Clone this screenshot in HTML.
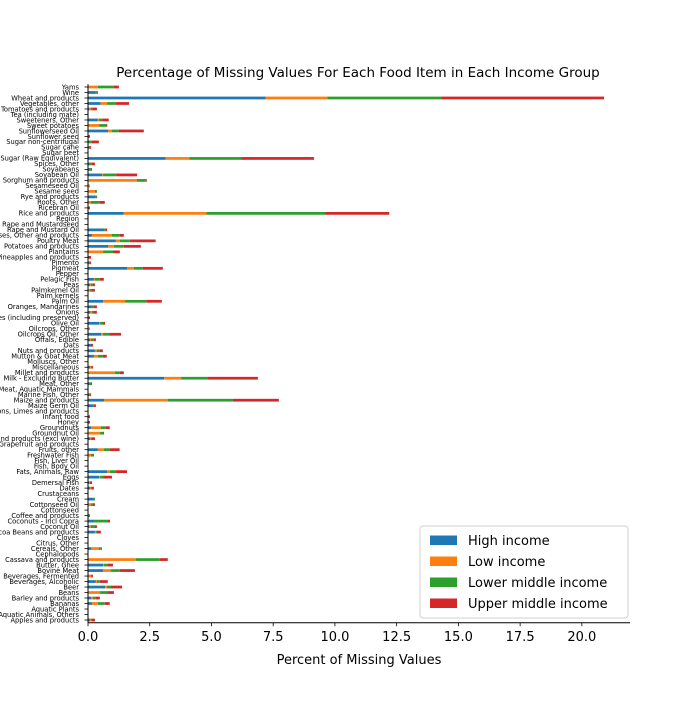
<!DOCTYPE html>
<html><head><meta charset="utf-8">
<style>
body{margin:0;background:#fff;}
svg text{font-family:"DejaVu Sans","Liberation Sans",sans-serif;fill:#000;}
</style></head>
<body>
<svg id="chart" width="700" height="700" viewBox="0 0 700 700" xmlns="http://www.w3.org/2000/svg">
<text x="358" y="77" font-size="13.5" text-anchor="middle">Percentage of Missing Values For Each Food Item in Each Income Group</text>
<g id="bars"></g>
<g id="yaxis"></g>
<g id="xaxis"></g>
<text x="359" y="664" font-size="13" text-anchor="middle">Percent of Missing Values</text>
<g id="legend"></g>
</svg>
<script>
const categories = ["Yams","Wine","Wheat and products","Vegetables, other","Tomatoes and products","Tea (including mate)","Sweeteners, Other","Sweet potatoes","Sunflowerseed Oil","Sunflower seed","Sugar non-centrifugal","Sugar cane","Sugar beet","Sugar (Raw Equivalent)","Spices, Other","Soyabeans","Soyabean Oil","Sorghum and products","Sesameseed Oil","Sesame seed","Rye and products","Roots, Other","Ricebran Oil","Rice and products","Region","Rape and Mustardseed","Rape and Mustard Oil","Pulses, Other and products","Poultry Meat","Potatoes and products","Plantains","Pineapples and products","Pimento","Pigmeat","Pepper","Pelagic Fish","Peas","Palmkernel Oil","Palm kernels","Palm Oil","Oranges, Mandarines","Onions","Olives (including preserved)","Olive Oil","Oilcrops, Other","Oilcrops Oil, Other","Offals, Edible","Oats","Nuts and products","Mutton & Goat Meat","Molluscs, Other","Miscellaneous","Millet and products","Milk - Excluding Butter","Meat, Other","Meat, Aquatic Mammals","Marine Fish, Other","Maize and products","Maize Germ Oil","Lemons, Limes and products","Infant food","Honey","Groundnuts","Groundnut Oil","Grapes and products (excl wine)","Grapefruit and products","Fruits, other","Freshwater Fish","Fish, Liver Oil","Fish, Body Oil","Fats, Animals, Raw","Eggs","Demersal Fish","Dates","Crustaceans","Cream","Cottonseed Oil","Cottonseed","Coffee and products","Coconuts - Incl Copra","Coconut Oil","Cocoa Beans and products","Cloves","Citrus, Other","Cereals, Other","Cephalopods","Cassava and products","Butter, Ghee","Bovine Meat","Beverages, Fermented","Beverages, Alcoholic","Beer","Beans","Barley and products","Bananas","Aquatic Plants","Aquatic Animals, Others","Apples and products"];
const highIncome = [0,0.30,7.2,0.51,0.04,0,0.40,0,0.81,0,0,0,0,3.15,0.04,0.04,0.57,0,0,0,0.31,0,0,1.45,0,0,0.65,0.16,1.13,0.81,0,0,0,1.58,0,0.24,0.08,0,0,0.61,0.16,0.08,0,0.45,0,0.53,0.08,0.12,0.28,0.24,0,0.08,0,3.08,0.04,0,0,0.65,0.20,0,0,0,0.12,0,0.08,0,0.40,0,0,0,0.77,0.45,0.04,0.08,0,0.24,0,0,0,0.24,0.04,0.28,0,0,0.12,0,0,0.61,0.61,0,0.32,0.69,0,0.12,0.16,0,0,0.08];
const lowIncome = [0.40,0,2.5,0.26,0.08,0,0.04,0.45,0.16,0,0,0,0,0.95,0,0,0.04,1.98,0.08,0.28,0,0.12,0,3.35,0,0,0,0.81,0.16,0.24,0.61,0,0,0.28,0,0.04,0.04,0.08,0,0.89,0,0.08,0,0.04,0.08,0.08,0.04,0,0.08,0.16,0,0.04,1.09,0.69,0,0,0,2.59,0,0,0,0,0.40,0.49,0.04,0,0.24,0.12,0,0,0.12,0.04,0.04,0.04,0,0,0.12,0,0,0,0.08,0.04,0,0,0.32,0,1.94,0.04,0.32,0.12,0.04,0.08,0.49,0.08,0.24,0,0,0.04];
const lowerMiddle = [0.65,0.05,4.6,0.36,0.05,0,0.13,0.30,0.28,0,0.16,0.08,0,2.1,0.12,0.08,0.53,0.36,0,0.08,0.03,0.36,0,4.8,0,0,0.08,0.32,0.40,0.40,0.40,0,0.08,0.36,0,0.20,0.08,0.08,0,0.86,0.08,0.08,0,0.12,0,0.28,0.12,0,0.12,0.20,0,0.04,0.20,1.09,0.08,0,0.08,2.63,0.04,0,0,0,0.20,0.12,0.04,0,0.24,0.08,0,0,0.24,0.12,0,0.04,0,0.04,0.08,0,0.08,0.57,0.16,0.04,0,0,0.08,0,0.97,0.16,0.36,0.04,0.12,0.16,0.32,0.12,0.28,0,0,0.04];
const upperMiddle = [0.20,0.05,6.6,0.53,0.19,0,0.27,0.03,1.01,0.08,0.28,0.04,0,2.95,0.12,0.04,0.85,0.04,0,0,0.03,0.20,0.08,2.6,0,0,0.04,0.16,1.05,0.69,0.28,0.12,0.04,0.81,0,0.16,0.08,0.12,0,0.63,0.12,0.12,0.08,0.08,0,0.45,0.08,0.08,0.12,0.16,0,0.04,0.16,2.02,0.04,0,0.04,1.86,0.08,0,0.08,0.08,0.16,0.04,0.12,0,0.40,0.04,0,0,0.45,0.36,0.08,0.08,0,0,0.08,0,0,0.08,0.08,0.16,0,0,0.04,0,0.32,0.20,0.61,0.04,0.32,0.45,0.24,0.16,0.20,0,0,0.12];
const seriesNames = ["High income","Low income","Lower middle income","Upper middle income"];
const xTicks = [0,2.5,5,7.5,10,12.5,15,17.5,20];

const NS="http://www.w3.org/2000/svg";
const colors=["#1f77b4","#ff7f0e","#2ca02c","#d62728"];
const series=[highIncome,lowIncome,lowerMiddle,upperMiddle];
const X0=88,X1=630,XMAX=21.95,YB=622.75,YT=84.25;
const n=categories.length;
function xs(v){return X0+v*(X1-X0)/XMAX;}
const step=(YB-YT)/n;
function ys(i){return YT+step*(i+0.5);}
function mk(tag,attrs,parent){const e=document.createElementNS(NS,tag);for(const k in attrs)e.setAttribute(k,attrs[k]);parent.appendChild(e);return e;}
const bars=document.getElementById('bars');
for(let i=0;i<n;i++){
  let acc=0;
  for(let s=0;s<4;s++){
    const v=series[s][i];
    if(v>0){
      const r=mk('rect',{x:xs(acc),y:ys(i)-step*0.25,width:xs(acc+v)-xs(acc),height:step*0.5,fill:colors[s]},bars);
      
      
    }
    acc+=v;
  }
}
const ya=document.getElementById('yaxis');
mk('line',{x1:X0,y1:YT,x2:X0,y2:YB,stroke:'#000','stroke-width':1},ya);
for(let i=0;i<n;i++){
  const y=ys(i);
  mk('line',{x1:X0-3.5,y1:y,x2:X0,y2:y,stroke:'#000','stroke-width':0.8},ya);
  const t=mk('text',{x:X0-9,y:y+2.3,'font-size':6.7,'text-anchor':'end'},ya);
  t.textContent=categories[i];
  
  
}
const xa=document.getElementById('xaxis');
mk('line',{x1:X0,y1:YB,x2:X1,y2:YB,stroke:'#000','stroke-width':1},xa);
xTicks.forEach(v=>{
  const x=xs(v);
  mk('line',{x1:x,y1:YB,x2:x,y2:YB+3.5,stroke:'#000','stroke-width':0.8},xa);
  const t=mk('text',{x:x,y:YB+18,'font-size':13,'text-anchor':'middle'},xa);
  t.textContent=v.toFixed(1);
  
  
});
const lg=document.getElementById('legend');
mk('rect',{x:420,y:526,width:208,height:92,rx:3,fill:'#fff',stroke:'#d0d0d0','stroke-width':1},lg);
seriesNames.forEach((nm,k)=>{
  const y=540+k*21;
  const p=mk('rect',{x:430,y:y-4.5,width:27,height:9.5,fill:colors[k]},lg);
  
  
  const t=mk('text',{x:468,y:y+5,'font-size':13},lg);
  t.textContent=nm;
  
  
});
</script>
</body></html>
